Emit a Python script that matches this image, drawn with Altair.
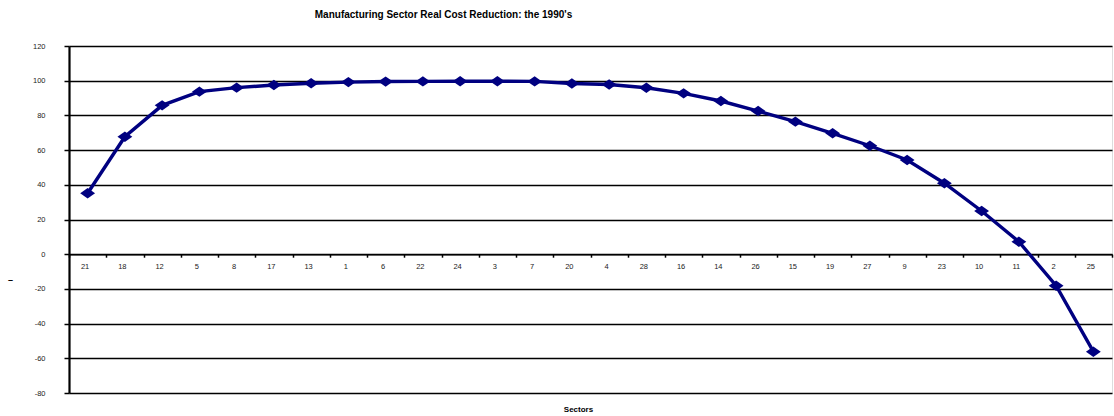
import altair as alt
import pandas as pd

# Sectors in ranked order and their real cost reduction over the 1990's
sectors = ["21", "18", "12", "5", "8", "17", "13", "1", "6", "22", "24", "3", "7", "20",
           "4", "28", "16", "14", "26", "15", "19", "27", "9", "23", "10", "11", "2", "25"]
reduction = [35.1, 67.7, 85.8, 93.7, 96.0, 97.5, 98.5, 99.2, 99.5, 99.6, 99.7, 99.7, 99.6, 98.4,
             97.8, 95.9, 92.7, 88.3, 82.5, 76.4, 69.7, 62.5, 54.3, 40.9, 24.9, 7.2, -18.2, -56.2]
y_ticks = [-80, -60, -40, -20, 0, 20, 40, 60, 80, 100, 120]

df = pd.DataFrame({"sector": sectors, "value": reduction})

W, H = 1043, 347
FONT = "Liberation Sans"
NAVY = "#000080"

x_enc = alt.X(
    "sector:N",
    sort=sectors,
    scale=alt.Scale(type="band", paddingInner=0, paddingOuter=0),
    axis=alt.Axis(
        title="Sectors",
        titleFont=FONT, titleFontSize=8, titleFontWeight="bold", titleColor="#000",
        titleX=509, titleY=155, titleBaseline="middle", titleAlign="center",
        labelAngle=0, labelFont=FONT, labelFontSize=7.5, labelColor="#222",
        labelPadding=5, labelOffset=-3,
        ticks=True, tickBand="extent", tickSize=3, tickColor="#000", tickWidth=1.5,
        domainColor="#000", domainWidth=1.5,
        grid=False,
        offset=-(H * 80 / 200),
    ),
)

y_enc = alt.Y(
    "value:Q",
    scale=alt.Scale(domain=[-80, 120], nice=False, zero=False),
    axis=alt.Axis(
        values=y_ticks,
        title="–", titleAngle=0, titleX=-59, titleY=233,
        titleFont=FONT, titleFontSize=9, titleColor="#000",
        titleBaseline="middle", titleAlign="center",
        labelFont=FONT, labelFontSize=7.5, labelColor="#222",
        labelPadding=19, labelExpr="'' + datum.value",
        tickSize=5, tickColor="#000", tickWidth=1.5,
        domainColor="#000", domainWidth=2.2,
        grid=True, gridColor="#000", gridWidth=1.5,
    ),
)

line = alt.Chart(df).mark_line(color=NAVY, strokeWidth=3.4).encode(x=x_enc, y=y_enc)
points = alt.Chart(df).mark_point(
    shape="M-1,0L0,-0.7L1,0L0,0.7Z", filled=True, color=NAVY, opacity=1, size=220
).encode(x=x_enc, y=y_enc)

chart = (
    (line + points)
    .properties(
        width=W,
        height=H,
        title=alt.TitleParams(
            "Manufacturing Sector Real Cost Reduction: the 1990's",
            font=FONT, fontSize=10, fontWeight="bold", color="#000",
            anchor="middle", dx=-147, offset=22,
        ),
        autosize=alt.AutoSizeParams(type="none"),
        padding={"left": 69, "top": 46, "right": 2, "bottom": 23},
    )
    .configure_view(stroke="#000", strokeWidth=2.2)
    .configure(background="#ffffff")
)

chart.save("out.html", embed_options={"renderer": "svg", "actions": False})
